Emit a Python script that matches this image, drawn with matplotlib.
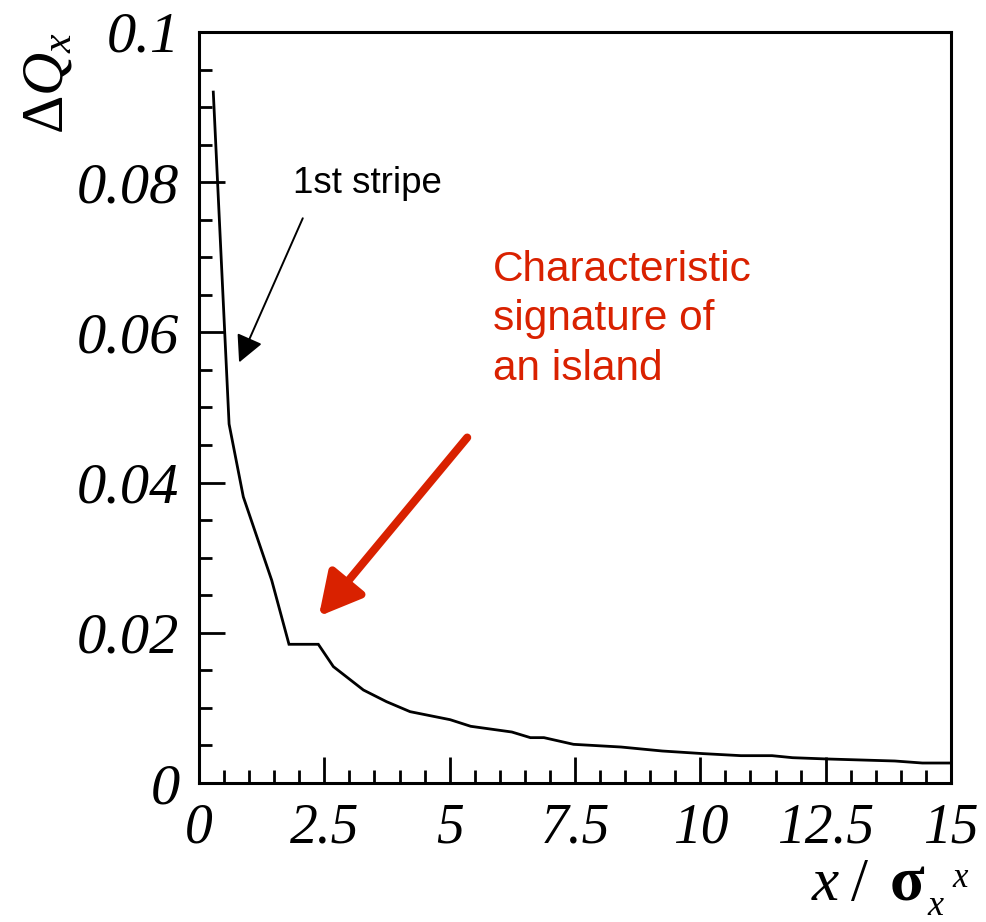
import matplotlib
matplotlib.use('Agg')
import matplotlib.pyplot as plt
from matplotlib.ticker import MultipleLocator

plt.rcParams['mathtext.fontset'] = 'custom'
plt.rcParams['mathtext.rm'] = 'Liberation Serif'
plt.rcParams['mathtext.it'] = 'Liberation Serif:italic'
plt.rcParams['mathtext.bf'] = 'Liberation Serif:bold'

# ---- data ----
x_sigma = [0.285, 0.6, 0.884, 1.45, 1.795, 2.38, 2.68, 3.28, 3.74, 4.21, 5.01, 5.42,
           6.24, 6.61, 6.88, 7.47, 8.42, 9.24, 10.06, 10.81, 11.43, 11.84, 12.52,
           13.88, 14.43, 14.97]
dQx = [0.0920, 0.0478, 0.0381, 0.0270, 0.01847, 0.01847, 0.0155, 0.01238, 0.01083,
       0.0095, 0.00843, 0.00755, 0.00679, 0.00604, 0.00604, 0.00515, 0.00479, 0.00426,
       0.00391, 0.00364, 0.00364, 0.00337, 0.0032, 0.00293, 0.00266, 0.00266]
xtick_vals = [0, 2.5, 5, 7.5, 10, 12.5, 15]
xtick_labels = ['0', '2.5', '5', '7.5', '10', '12.5', '15']
ytick_vals = [0, 0.02, 0.04, 0.06, 0.08, 0.1]
ytick_labels = ['0', '0.02', '0.04', '0.06', '0.08', '0.1']

W, H = 987, 922
fig = plt.figure(figsize=(W / 100, H / 100), dpi=100)
ax = fig.add_axes([199 / W, 1 - 783 / H, 752 / W, 751 / H])

ax.plot(x_sigma, dQx, color='black', lw=2.0, solid_joinstyle='miter')
ax.set_xlim(0, 15)
ax.set_ylim(0, 0.1)

ax.set_xticks(xtick_vals, xtick_labels, family='Liberation Serif', style='italic', size=40)
ax.set_yticks(ytick_vals, ytick_labels, family='Liberation Serif', style='italic', size=42)
ax.xaxis.set_minor_locator(MultipleLocator(0.5))
ax.yaxis.set_minor_locator(MultipleLocator(0.005))
ax.tick_params(which='both', direction='in', top=False, right=False, width=2.0, color='black')
ax.tick_params(which='major', length=19)
ax.tick_params(which='minor', length=9.5)
ax.tick_params(axis='x', which='major', pad=14)
ax.tick_params(axis='y', which='major', pad=14)
for s in ax.spines.values():
    s.set_linewidth(2.2)

def px(xp, yp):
    return xp / W, 1 - yp / H

# y-axis title
fig.text(*px(46, 32), r'$\mathrm{\Delta}Q_{x}$', rotation=90, ha='center', va='top', size=43)

# x-axis title built from pieces: x / sigma_x^x
fig.text(*px(812, 900), 'x', family='Liberation Serif', style='italic', size=44, va='baseline')
fig.text(*px(851, 900), '/', family='Liberation Serif', size=44, va='baseline')
fig.text(*px(890, 900), 'σ', family='Liberation Serif', weight='bold', size=46, va='baseline')
fig.text(*px(927, 915), 'x', family='Liberation Serif', style='italic', size=26, va='baseline')
fig.text(*px(952, 887), 'x', family='Liberation Serif', style='italic', size=25, va='baseline')

# annotations
ax.text(1.875, 0.0785, '1st stripe', family='Liberation Sans', size=26.5, color='black',
        va='baseline')
ax.annotate('', xy=(0.80, 0.0560), xytext=(2.07, 0.0752),
            arrowprops=dict(arrowstyle='-|>,head_length=0.75,head_width=0.38', lw=1.4,
                            color='black', mutation_scale=22, shrinkA=0, shrinkB=0))

red = '#d92100'
ax.text(5.86, 0.0537, 'Characteristic\nsignature of\nan island', family='Liberation Sans',
        size=30.5, color=red, va='baseline', ha='left', linespacing=1.30)
ax.annotate('', xy=(2.39, 0.0222), xytext=(5.35, 0.0460),
            arrowprops=dict(arrowstyle='-|>,head_length=0.75,head_width=0.40', lw=5.8,
                            color=red, mutation_scale=34, shrinkA=0, shrinkB=0))

fig.savefig('out.png', dpi=100)
